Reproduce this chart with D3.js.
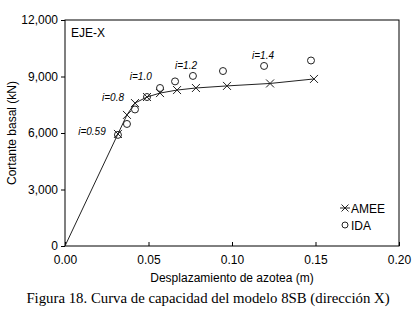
<!DOCTYPE html>
<html>
<head>
<meta charset="utf-8">
<script src="https://cdn.jsdelivr.net/npm/d3@7"></script>
<style>
  body { margin: 0; background: #fff; }
  svg text { font-family: "Liberation Sans", Arial, sans-serif; fill: #000; }
  .caption { font-family: "Liberation Serif", "Times New Roman", serif; }
</style>
</head>
<body>
<div id="chart"></div>
<script>
// AMEE curve (pushover points), origin included
var amee_x = [0, 0.0317, 0.0371, 0.0419, 0.0491, 0.0569, 0.0671, 0.0784, 0.0970, 0.1228, 0.1491];
var amee_y = [0, 5950, 6960, 7590, 7910, 8120, 8280, 8390, 8500, 8630, 8870];
var amee_marks = [false, true, true, true, true, true, true, true, true, true, true];

// IDA points
var ida_x = [0.0317, 0.0371, 0.0419, 0.0491, 0.0569, 0.0659, 0.0766, 0.0946, 0.1192, 0.1473];
var ida_y = [5900, 6480, 7250, 7910, 8390, 8740, 9030, 9290, 9560, 9850];

// intensity labels
var lab_text = ["i=0.59", "i=0.8", "i=1.0", "i=1.2", "i=1.4"];
var lab_x = [0.0079, 0.0222, 0.0388, 0.0659, 0.1120];
var lab_y = [5900, 7720, 8800, 9400, 9940];

var x_ticks = [0, 0.05, 0.10, 0.15, 0.20];
var y_ticks = [0, 3000, 6000, 9000, 12000];

var W = 416, H = 314;
var margin = {left: 65, right: 17, top: 20, bottom: 68};
var width = W - margin.left - margin.right;
var height = H - margin.top - margin.bottom;

var svg = d3.select("#chart").append("svg")
  .attr("width", W).attr("height", H);

var g = svg.append("g")
  .attr("transform", "translate(" + margin.left + "," + margin.top + ")");

var x = d3.scaleLinear().domain([0, 0.2]).range([0, width]);
var y = d3.scaleLinear().domain([0, 12000]).range([height, 0]);

// frame
g.append("rect")
  .attr("x", 0).attr("y", 0)
  .attr("width", width).attr("height", height)
  .attr("fill", "none").attr("stroke", "#000").attr("stroke-width", 1);

// x axis, ticks pointing inward
var xAxis = g.append("g")
  .attr("transform", "translate(0," + height + ")")
  .call(d3.axisBottom(x).tickValues(x_ticks).tickFormat(d3.format(".2f")).tickSizeInner(-4).tickSizeOuter(0).tickPadding(9));
xAxis.select(".domain").remove();
xAxis.selectAll("text").attr("font-size", 12).attr("font-family", "Liberation Sans, Arial, sans-serif");

// y axis, ticks outside
var yAxis = g.append("g")
  .call(d3.axisLeft(y).tickValues(y_ticks).tickFormat(d3.format(",")).tickSizeInner(4).tickSizeOuter(0).tickPadding(3));
yAxis.select(".domain").remove();
yAxis.selectAll("text").attr("font-size", 12).attr("font-family", "Liberation Sans, Arial, sans-serif");

// axis titles
svg.append("text")
  .attr("x", margin.left + width / 2).attr("y", 282)
  .attr("text-anchor", "middle").attr("font-size", 12)
  .text("Desplazamiento de azotea (m)");

svg.append("text")
  .attr("transform", "translate(16," + (margin.top + height / 2) + ") rotate(-90)")
  .attr("text-anchor", "middle").attr("font-size", 12)
  .text("Cortante basal  (kN)");

svg.append("text")
  .attr("class", "caption")
  .attr("x", 208).attr("y", 303)
  .attr("text-anchor", "middle").attr("font-size", 14.8)
  .text("Figura 18. Curva de capacidad del modelo 8SB (dirección X)");

// AMEE line
var amee = amee_x.map(function(d, i) { return {x: d, y: amee_y[i], m: amee_marks[i]}; });
var line = d3.line().x(function(d) { return x(d.x); }).y(function(d) { return y(d.y); });

g.append("path")
  .datum(amee)
  .attr("d", line)
  .attr("fill", "none").attr("stroke", "#222").attr("stroke-width", 1);

// cross markers
var cs = 4;
g.append("g").selectAll("path")
  .data(amee.filter(function(d) { return d.m; }))
  .enter().append("path")
  .attr("d", function(d) {
    var px = x(d.x), py = y(d.y);
    return "M" + (px - cs) + "," + (py - cs) + "L" + (px + cs) + "," + (py + cs) +
           "M" + (px - cs) + "," + (py + cs) + "L" + (px + cs) + "," + (py - cs);
  })
  .attr("stroke", "#222").attr("stroke-width", 1).attr("fill", "none");

// IDA circles
g.append("g").selectAll("circle")
  .data(ida_x.map(function(d, i) { return {x: d, y: ida_y[i]}; }))
  .enter().append("circle")
  .attr("cx", function(d) { return x(d.x); })
  .attr("cy", function(d) { return y(d.y); })
  .attr("r", 3.5)
  .attr("fill", "none").attr("stroke", "#222").attr("stroke-width", 1);

// intensity labels
g.append("g").selectAll("text")
  .data(lab_text)
  .enter().append("text")
  .attr("x", function(d, i) { return x(lab_x[i]); })
  .attr("y", function(d, i) { return y(lab_y[i]); })
  .attr("font-size", 10).attr("font-style", "italic")
  .text(function(d) { return d; });

// series tag
g.append("text")
  .attr("x", 6).attr("y", 17)
  .attr("font-size", 12)
  .text("EJE-X");

// legend
var lg = g.append("g").attr("transform", "translate(" + (width - 54) + "," + (height - 38) + ")");
lg.append("line").attr("x1", -5).attr("x2", 5).attr("y1", 0).attr("y2", 0)
  .attr("stroke", "#222");
lg.append("path").attr("d", "M-3.5,-3.5L3.5,3.5M-3.5,3.5L3.5,-3.5")
  .attr("stroke", "#222").attr("fill", "none");
lg.append("text").attr("x", 6).attr("y", 4.5).attr("font-size", 12).text("AMEE");
lg.append("circle").attr("cx", 0).attr("cy", 17).attr("r", 3)
  .attr("fill", "none").attr("stroke", "#222");
lg.append("text").attr("x", 6).attr("y", 21.5).attr("font-size", 12).text("IDA");
</script>
</body>
</html>
